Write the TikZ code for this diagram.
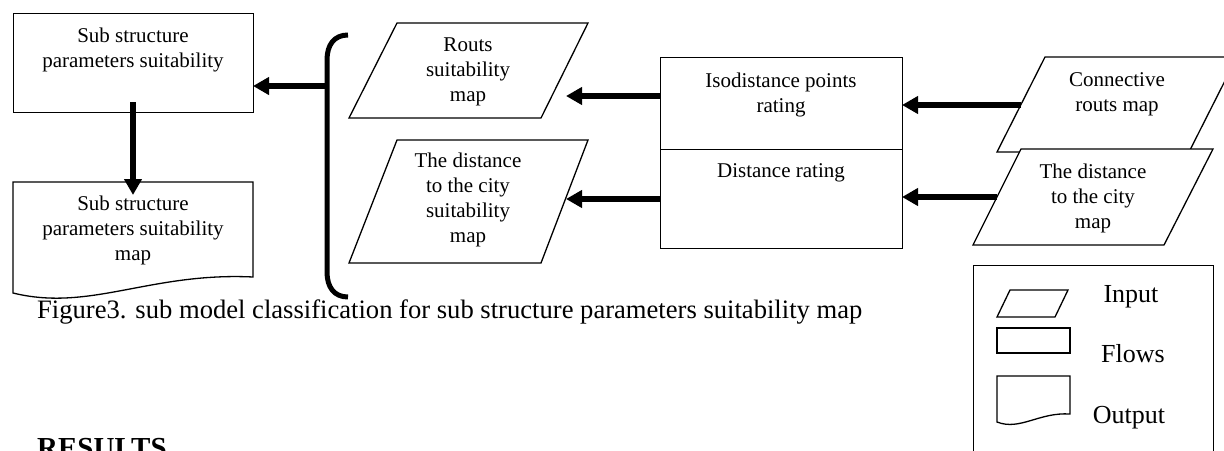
\documentclass[tikz,border=0pt]{standalone}
\usepackage{fontspec}
\setmainfont{Liberation Serif}
\usetikzlibrary{arrows.meta}
\tikzset{
  shapeline/.style={draw=black, line width=1.3pt, fill=white, line join=miter},
  boxtext/.style={font=\fontsize{21}{25}\selectfont, align=center, inner sep=0pt},
  legtext/.style={font=\fontsize{26}{30}\selectfont, inner sep=0pt, anchor=base},
  flowarrow/.style={line width=5.5pt, -{Triangle[length=16pt,width=17pt]}},
  bracketline/.style={line width=5pt},
}
\begin{document}
\begin{tikzpicture}[x=1pt,y=-1pt]
\useasboundingbox (0,0) rectangle (1224,450);
\clip (0,0) rectangle (1224,450);

% left column
\node[shapeline, rectangle, minimum width=240pt, minimum height=99pt, anchor=north west] (box1) at (13,13) {};
\node[boxtext] (box1t) at (133,50) {Sub structure\\parameters suitability};
\draw[shapeline] (13,182) -- (253,182) -- (253,277) .. controls (150,272) and (90,312) .. (13,293) -- cycle;
\node[boxtext] (outt) at (133,230) {Sub structure\\parameters suitability\\map};
\coordinate (box1S) at (133,102);
\coordinate (outN) at (133,195);
\draw[flowarrow] (box1S) -- (outN);

% bracket
\draw[bracketline] (348,35) .. controls (334,35) and (327,45) .. (327,60) -- (327,272) .. controls (327,287) and (334,297) .. (348,297);
\coordinate (brk) at (327,86);
\coordinate (box1E) at (253,86);
\draw[flowarrow] (brk) -- (box1E);

% middle inputs
\draw[shapeline] (397,23) -- (588,23) -- (541,118) -- (349,118) -- cycle;
\node[boxtext] (p1t) at (468,72) {Routs\\suitability\\map};
\draw[shapeline] (397,140) -- (588,140) -- (541,263) -- (349,263) -- cycle;
\node[boxtext] (p2t) at (468,200) {The distance\\to the city\\suitability\\map};

% flows
\node[shapeline, rectangle, minimum width=242pt, minimum height=92pt, anchor=north west] (iso) at (660,57) {};
\node[shapeline, rectangle, minimum width=242pt, minimum height=99pt, anchor=north west] (dist) at (660,149) {};
\node[boxtext] (isot) at (781,94.5) {Isodistance points\\rating};
\node[boxtext] (distt) at (781,173) {Distance rating};

\coordinate (isoW) at (660,96);
\coordinate (p1E) at (566,96);
\draw[flowarrow] (isoW) -- (p1E);
\coordinate (distW) at (660,199);
\coordinate (p2E) at (566,199);
\draw[flowarrow] (distW) -- (p2E);

% right inputs
\draw[shapeline] (1045,57) -- (1237,57) -- (1189,152) -- (997,152) -- cycle;
\node[boxtext] (cont) at (1117,94) {Connective\\routs map};
\draw[shapeline] (1021,149) -- (1213,149) -- (1164,245) -- (973,245) -- cycle;
\node[boxtext] (p4t) at (1093,198) {The distance\\to the city\\map};

\coordinate (conW) at (1021,105);
\coordinate (isoE) at (902,105);
\draw[flowarrow] (conW) -- (isoE);
\coordinate (p4W) at (997,197);
\coordinate (distE) at (902,197);
\draw[flowarrow] (p4W) -- (distE);

% legend
\node[shapeline, rectangle, minimum width=240pt, minimum height=205pt, anchor=north west] (legend) at (973,265) {};
\draw[shapeline] (1010,290) -- (1068,290) -- (1055,317) -- (997,317) -- cycle;
\draw[shapeline] (997,328) rectangle (1070,353);
\draw[shapeline] (997,376) -- (1070,376) -- (1070,414) .. controls (1039,412) and (1020,431) .. (997,422) -- cycle;
\node[legtext] (lin) at (1131,302) {Input};
\node[legtext] (lfl) at (1133,362) {Flows};
\node[legtext] (lout) at (1129,423) {Output};

% caption
\node[anchor=base west, inner sep=0pt, font=\fontsize{26.6}{30}\selectfont] (cap) at (37,318) {Figure3. sub model classification for sub structure parameters suitability map};
\node[anchor=base west, inner sep=0pt, font=\fontsize{29}{34}\selectfont\bfseries] (res) at (37,457.6) {RESULTS};
\end{tikzpicture}
\end{document}
